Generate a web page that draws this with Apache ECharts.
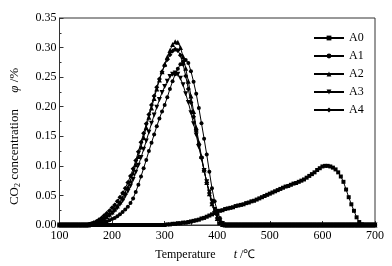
<!DOCTYPE html>
<html>
<head>
<meta charset="utf-8">
<script src="https://cdn.jsdelivr.net/npm/echarts@6/dist/echarts.min.js"></script>
<style>
  html, body { margin: 0; padding: 0; background: #fff; }
  #chart { width: 392px; height: 266px; }
</style>
</head>
<body>
<div id="chart"></div>
<script>
// temperature, 100..700 step 5
const TEMP = [
  100, 105, 110, 115, 120, 125, 130, 135, 140, 145,
  150, 155, 160, 165, 170, 175, 180, 185, 190, 195,
  200, 205, 210, 215, 220, 225, 230, 235, 240, 245,
  250, 255, 260, 265, 270, 275, 280, 285, 290, 295,
  300, 305, 310, 315, 320, 325, 330, 335, 340, 345,
  350, 355, 360, 365, 370, 375, 380, 385, 390, 395,
  400, 405, 410, 415, 420, 425, 430, 435, 440, 445,
  450, 455, 460, 465, 470, 475, 480, 485, 490, 495,
  500, 505, 510, 515, 520, 525, 530, 535, 540, 545,
  550, 555, 560, 565, 570, 575, 580, 585, 590, 595,
  600, 605, 610, 615, 620, 625, 630, 635, 640, 645,
  650, 655, 660, 665, 670, 675, 680, 685, 690, 695,
  700
];

const A0 = [
  0, 0, 0, 0, 0, 0, 0, 0, 0, 0,
  0, 0, 0, 0, 0, 0, 0, 0, 0, 0,
  0, 0, 0, 0, 0, 0, 0, 0, 0, 0,
  0, 0, 0, 0, 0, 0, 0, 0, 0, 0,
  0, 0.001, 0.001, 0.002, 0.002, 0.003, 0.003, 0.004, 0.004, 0.005,
  0.006, 0.007, 0.008, 0.009, 0.011, 0.012, 0.014, 0.016, 0.018, 0.020,
  0.022, 0.024, 0.025, 0.027, 0.028, 0.029, 0.030, 0.032, 0.033, 0.034,
  0.035, 0.037, 0.038, 0.040, 0.041, 0.043, 0.045, 0.047, 0.049, 0.051,
  0.053, 0.055, 0.057, 0.059, 0.061, 0.063, 0.065, 0.066, 0.068, 0.070,
  0.071, 0.073, 0.075, 0.077, 0.080, 0.083, 0.086, 0.089, 0.093, 0.096,
  0.099, 0.100, 0.100, 0.099, 0.097, 0.094, 0.089, 0.082, 0.073, 0.060,
  0.047, 0.035, 0.024, 0.013, 0.005, 0.001, 0, 0, 0, 0,
  0
];

const A1 = [
  0, 0, 0, 0, 0, 0, 0, 0, 0, 0,
  0, 0, 0, 0, 0.001, 0.002, 0.003, 0.004, 0.006, 0.008,
  0.010, 0.012, 0.015, 0.018, 0.022, 0.026, 0.031, 0.037, 0.045, 0.056,
  0.068, 0.082, 0.096, 0.110, 0.125, 0.139, 0.153, 0.167, 0.180, 0.192,
  0.203, 0.216, 0.230, 0.243, 0.255, 0.264, 0.272, 0.277, 0.279, 0.274,
  0.260, 0.242, 0.222, 0.198, 0.172, 0.146, 0.119, 0.090, 0.062, 0.040,
  0.024, 0.012, 0.004, 0.001, 0, 0, 0, 0, 0, 0,
  0, 0, 0, 0, 0, 0, 0, 0, 0, 0,
  0, 0, 0, 0, 0, 0, 0, 0, 0, 0,
  0, 0, 0, 0, 0, 0, 0, 0, 0, 0,
  0, 0, 0, 0, 0, 0, 0, 0, 0, 0,
  0, 0, 0, 0, 0, 0, 0, 0, 0, 0,
  0
];

const A2 = [
  0, 0, 0, 0, 0, 0, 0, 0, 0, 0,
  0, 0, 0.001, 0.002, 0.003, 0.005, 0.008, 0.011, 0.014, 0.018,
  0.022, 0.027, 0.032, 0.039, 0.046, 0.055, 0.064, 0.075, 0.088, 0.102,
  0.116, 0.132, 0.148, 0.165, 0.182, 0.198, 0.214, 0.230, 0.245, 0.259,
  0.272, 0.284, 0.295, 0.305, 0.310, 0.309, 0.300, 0.285, 0.265, 0.243,
  0.218, 0.192, 0.165, 0.140, 0.116, 0.093, 0.072, 0.053, 0.036, 0.022,
  0.011, 0.004, 0.001, 0, 0, 0, 0, 0, 0, 0,
  0, 0, 0, 0, 0, 0, 0, 0, 0, 0,
  0, 0, 0, 0, 0, 0, 0, 0, 0, 0,
  0, 0, 0, 0, 0, 0, 0, 0, 0, 0,
  0, 0, 0, 0, 0, 0, 0, 0, 0, 0,
  0, 0, 0, 0, 0, 0, 0, 0, 0, 0,
  0
];

const A3 = [
  0, 0, 0, 0, 0, 0, 0, 0, 0, 0,
  0, 0, 0.001, 0.002, 0.003, 0.005, 0.007, 0.010, 0.013, 0.016,
  0.020, 0.024, 0.029, 0.035, 0.041, 0.049, 0.057, 0.066, 0.077, 0.089,
  0.101, 0.114, 0.128, 0.142, 0.157, 0.172, 0.186, 0.199, 0.212, 0.224,
  0.234, 0.243, 0.251, 0.255, 0.257, 0.255, 0.248, 0.237, 0.222, 0.207,
  0.190, 0.171, 0.152, 0.132, 0.112, 0.092, 0.073, 0.056, 0.040, 0.026,
  0.015, 0.007, 0.002, 0, 0, 0, 0, 0, 0, 0,
  0, 0, 0, 0, 0, 0, 0, 0, 0, 0,
  0, 0, 0, 0, 0, 0, 0, 0, 0, 0,
  0, 0, 0, 0, 0, 0, 0, 0, 0, 0,
  0, 0, 0, 0, 0, 0, 0, 0, 0, 0,
  0, 0, 0, 0, 0, 0, 0, 0, 0, 0,
  0
];

const A4 = [
  0, 0, 0, 0, 0, 0, 0, 0, 0, 0,
  0, 0.001, 0.002, 0.004, 0.006, 0.009, 0.012, 0.016, 0.020, 0.024,
  0.029, 0.034, 0.040, 0.047, 0.054, 0.062, 0.072, 0.083, 0.095, 0.109,
  0.124, 0.140, 0.155, 0.171, 0.187, 0.203, 0.218, 0.233, 0.247, 0.259,
  0.270, 0.280, 0.288, 0.294, 0.297, 0.295, 0.287, 0.272, 0.252, 0.230,
  0.207, 0.183, 0.159, 0.136, 0.114, 0.092, 0.072, 0.054, 0.037, 0.023,
  0.012, 0.004, 0.001, 0, 0, 0, 0, 0, 0, 0,
  0, 0, 0, 0, 0, 0, 0, 0, 0, 0,
  0, 0, 0, 0, 0, 0, 0, 0, 0, 0,
  0, 0, 0, 0, 0, 0, 0, 0, 0, 0,
  0, 0, 0, 0, 0, 0, 0, 0, 0, 0,
  0, 0, 0, 0, 0, 0, 0, 0, 0, 0,
  0
];

const SERIES_NAMES = ['A0', 'A1', 'A2', 'A3', 'A4'];
const SERIES_VALUES = [A0, A1, A2, A3, A4];
const SERIES_SYMBOLS = ['rect', 'circle', 'triangle', 'path://M0,0 L10,0 L5,10 Z', 'diamond'];
const SERIES_SYMBOL_SIZES = [4, 4, 5, 5, 5];
const X_TICKS = [100, 200, 300, 400, 500, 600, 700];

const FONT = 'Liberation Serif';
const AXIS_COLOR = '#333';

let chart = echarts.init(document.getElementById('chart'));

function build_series() {
  return SERIES_NAMES.map(function (name, i) {
    return {
      name: name,
      type: 'line',
      symbol: SERIES_SYMBOLS[i],
      symbolSize: SERIES_SYMBOL_SIZES[i],
      showAllSymbol: true,
      lineStyle: { color: '#000', width: 1 },
      itemStyle: { color: '#000' },
      emphasis: { disabled: true },
      data: TEMP.map(function (t, j) { return [t, SERIES_VALUES[i][j]]; })
    };
  });
}

let options = {
  animation: false,
  backgroundColor: '#fff',
  grid: {
    left: 58, right: 17, top: 18, bottom: 41,
    show: true,
    borderColor: AXIS_COLOR,
    borderWidth: 1
  },
  legend: {
    orient: 'vertical',
    left: 308,
    top: 27,
    itemWidth: 30,
    itemHeight: 6,
    itemGap: 6,
    textStyle: { fontFamily: FONT, fontSize: 12, color: '#000' },
    data: SERIES_NAMES
  },
  xAxis: {
    type: 'value',
    min: X_TICKS[0],
    max: X_TICKS[X_TICKS.length - 1],
    interval: 100,
    name: 'Temperature      {it|t} /℃',
    nameLocation: 'middle',
    nameGap: 24,
    nameTextStyle: {
      fontFamily: FONT, fontSize: 12, color: '#000',
      padding: [0, 24, 0, 0],
      rich: { it: { fontFamily: FONT, fontStyle: 'italic', fontSize: 12, color: '#000' } }
    },
    axisLine: { lineStyle: { color: AXIS_COLOR, width: 1 } },
    axisTick: { inside: true, length: 4, lineStyle: { color: AXIS_COLOR } },
    minorTick: { show: true, splitNumber: 2, length: 2, lineStyle: { color: AXIS_COLOR } },
    splitLine: { show: false },
    axisLabel: { fontFamily: FONT, fontSize: 12, color: '#000', margin: 5 }
  },
  yAxis: {
    type: 'value',
    min: 0,
    max: 0.35,
    interval: 0.05,
    name: 'CO{sub|2} concentration     {it|φ} /%',
    nameLocation: 'middle',
    nameGap: 38,
    nameTextStyle: {
      fontFamily: FONT, fontSize: 13, color: '#000',
      padding: [0, 30, 0, 0],
      rich: {
        sub: { fontFamily: FONT, fontSize: 8, color: '#000', verticalAlign: 'bottom', padding: [6, 0, 0, 0] },
        it: { fontFamily: FONT, fontStyle: 'italic', fontSize: 13, color: '#000' }
      }
    },
    axisLine: { lineStyle: { color: AXIS_COLOR, width: 1 } },
    axisTick: { inside: true, length: 4, lineStyle: { color: AXIS_COLOR } },
    minorTick: { show: true, splitNumber: 2, length: 2, lineStyle: { color: AXIS_COLOR } },
    splitLine: { show: false },
    axisLabel: {
      fontFamily: FONT, fontSize: 12, color: '#000', margin: 3,
      formatter: function (v) { return v.toFixed(2); }
    }
  },
  series: build_series()
};

chart.setOption(options);
</script>
</body>
</html>
